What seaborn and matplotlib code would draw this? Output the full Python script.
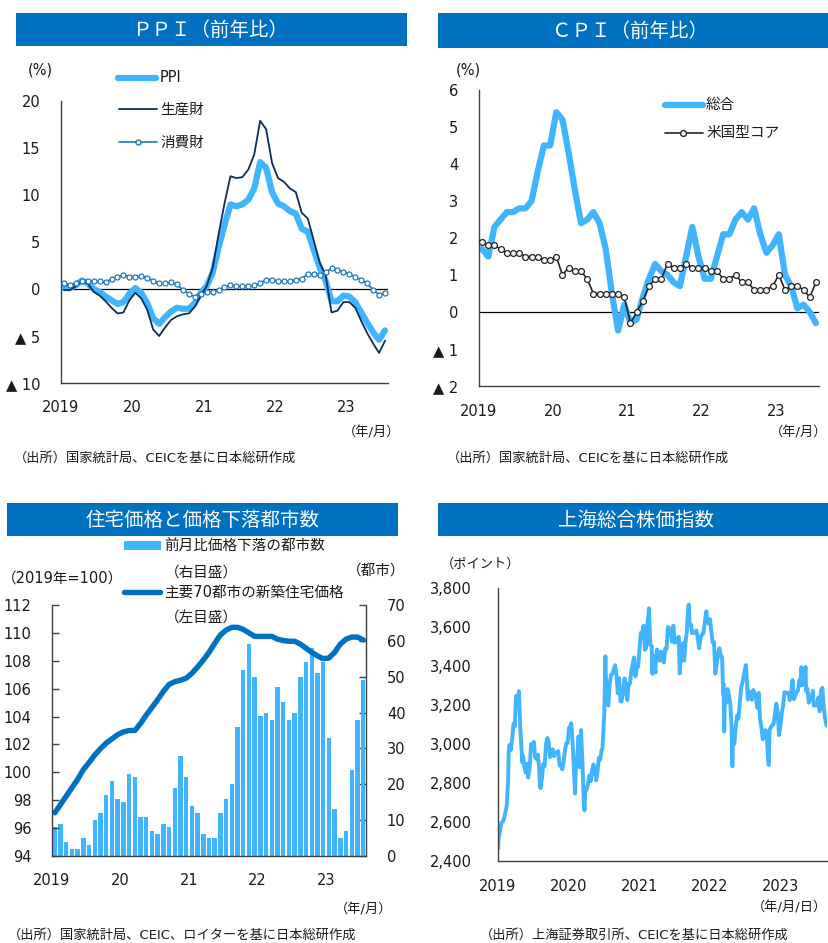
import numpy as np
import pandas as pd
import matplotlib
matplotlib.use("Agg")
import matplotlib.pyplot as plt
from matplotlib.patches import Rectangle
from matplotlib.lines import Line2D
from matplotlib.ticker import FuncFormatter, FixedLocator
import seaborn as sns

# ---------------------------------------------------------------- data
year_labels = ["2019", "20", "21", "22", "23"]
year_ticks = [0, 12, 24, 36, 48]

# PPI, year-on-year (%), Jan 2019 - Jul 2023
ppi_total = [0.1, 0.1, 0.4, 0.9, 0.6, 0.0, -0.3, -0.8, -1.2, -1.6, -1.4, -0.5,
             0.1, -0.4, -1.5, -3.1, -3.7, -3.0, -2.4, -2.0, -2.1, -2.1, -1.5, -0.4,
             0.3, 1.7, 4.4, 6.8, 9.0, 8.8, 9.0, 9.5, 10.7, 13.5, 12.9, 10.3,
             9.1, 8.8, 8.3, 8.0, 6.4, 6.1, 4.2, 2.3, 0.9, -1.3, -1.3, -0.7,
             -0.8, -1.4, -2.5, -3.6, -4.6, -5.4, -4.4]
ppi_producer = [-0.1, -0.1, 0.3, 0.8, 0.6, -0.3, -0.7, -1.3, -2.0, -2.6, -2.5, -1.2,
                -0.4, -1.0, -2.2, -4.3, -5.0, -4.1, -3.3, -2.9, -2.7, -2.6, -1.9, -0.7,
                0.3, 2.2, 5.8, 9.1, 12.0, 11.8, 11.9, 12.7, 14.3, 17.9, 17.0, 13.4,
                11.8, 11.4, 10.7, 10.3, 8.1, 7.5, 5.2, 2.8, 1.5, -2.5, -2.3, -1.4,
                -1.4, -2.0, -3.4, -4.7, -5.8, -6.8, -5.5]
ppi_consumer = [0.6, 0.4, 0.6, 0.9, 0.9, 0.8, 0.8, 0.7, 1.1, 1.3, 1.5, 1.3,
                1.3, 1.4, 1.2, 0.9, 0.6, 0.6, 0.7, 0.5, -0.1, -0.5, -0.8, -0.5,
                -0.3, -0.3, -0.1, 0.2, 0.4, 0.3, 0.3, 0.3, 0.4, 0.6, 1.0, 1.0,
                0.8, 0.8, 0.8, 1.0, 1.1, 1.6, 1.6, 1.5, 1.8, 2.2, 2.0, 1.8,
                1.6, 1.3, 1.0, 0.6, -0.1, -0.6, -0.4]

# CPI, year-on-year (%)
cpi_total = [1.7, 1.5, 2.3, 2.5, 2.7, 2.7, 2.8, 2.8, 3.0, 3.8, 4.5, 4.5,
             5.4, 5.2, 4.3, 3.3, 2.4, 2.5, 2.7, 2.4, 1.7, 0.5, -0.5, 0.2,
             -0.3, -0.2, 0.4, 0.9, 1.3, 1.1, 1.0, 0.8, 0.7, 1.5, 2.3, 1.5,
             0.9, 0.9, 1.5, 2.1, 2.1, 2.5, 2.7, 2.5, 2.8, 2.1, 1.6, 1.8,
             2.1, 1.0, 0.7, 0.1, 0.2, 0.0, -0.3]
cpi_core = [1.9, 1.8, 1.8, 1.7, 1.6, 1.6, 1.6, 1.5, 1.5, 1.5, 1.4, 1.4,
            1.5, 1.0, 1.2, 1.1, 1.1, 0.9, 0.5, 0.5, 0.5, 0.5, 0.5, 0.4,
            -0.3, 0.0, 0.3, 0.7, 0.9, 0.9, 1.3, 1.2, 1.2, 1.3, 1.2, 1.2,
            1.2, 1.1, 1.1, 0.9, 0.9, 1.0, 0.8, 0.8, 0.6, 0.6, 0.6, 0.7,
            1.0, 0.6, 0.7, 0.7, 0.6, 0.4, 0.8]

# New home prices in 70 major cities (2019 = 100) and number of cities with m/m declines
house_price = [97.1, 97.7, 98.3, 98.9, 99.5, 100.2, 100.7, 101.25, 101.7, 102.1, 102.4, 102.7,
               102.9, 103.0, 103.0, 103.5, 104.1, 104.65, 105.2, 105.8, 106.3, 106.5, 106.6, 106.75,
               107.1, 107.55, 108.05, 108.6, 109.25, 109.85, 110.2, 110.4, 110.4, 110.25, 110.0, 109.75,
               109.75, 109.75, 109.75, 109.55, 109.45, 109.4, 109.4, 109.2, 108.9, 108.6, 108.35, 108.15,
               108.2, 108.6, 109.2, 109.55, 109.7, 109.7, 109.5]
falling_cities = [8, 9, 4, 2, 2, 5, 3, 10, 12, 17, 21, 16,
                  15, 23, 22, 11, 11, 7, 6, 9, 8, 19, 28, 22,
                  14, 12, 6, 5, 5, 12, 16, 20, 36, 52, 59, 50,
                  39, 40, 38, 47, 43, 38, 40, 50, 54, 58, 51, 54,
                  33, 13, 5, 7, 24, 38, 49]

# Shanghai Composite Index (points)
sse_2019 = [("01-02", 2465), ("01-04", 2514), ("01-11", 2553), ("01-18", 2596), ("01-25", 2601),
            ("02-01", 2618), ("02-15", 2682), ("02-22", 2804), ("02-25", 2961), ("03-01", 2994),
            ("03-08", 2969), ("03-15", 3021), ("03-22", 3104), ("03-29", 3091), ("04-04", 3247),
            ("04-08", 3244), ("04-12", 3189), ("04-19", 3271), ("04-26", 3086), ("05-06", 2906),
            ("05-10", 2939), ("05-17", 2882), ("05-24", 2853), ("05-31", 2899), ("06-06", 2828),
            ("06-14", 2882), ("06-21", 3001), ("06-28", 2979), ("07-05", 3011), ("07-12", 2930),
            ("07-19", 2924), ("07-26", 2945), ("08-02", 2868), ("08-06", 2778), ("08-09", 2774),
            ("08-16", 2824), ("08-23", 2898), ("08-30", 2886), ("09-06", 2999), ("09-13", 3031),
            ("09-20", 3006), ("09-27", 2932), ("10-11", 2973), ("10-18", 2938), ("10-25", 2955),
            ("11-01", 2958), ("11-08", 2964), ("11-15", 2891), ("11-22", 2885), ("11-29", 2871),
            ("12-06", 2912), ("12-13", 2967), ("12-20", 3005), ("12-27", 3005), ("12-31", 3050)]
sse_2020 = [("01-03", 3083), ("01-10", 3092), ("01-14", 3107), ("01-17", 3075), ("01-23", 2977),
            ("02-03", 2746), ("02-07", 2876), ("02-14", 2917), ("02-21", 3039), ("02-28", 2880),
            ("03-05", 3071), ("03-13", 2887), ("03-19", 2702), ("03-23", 2660), ("03-27", 2772),
            ("04-03", 2764), ("04-10", 2797), ("04-17", 2838), ("04-24", 2809), ("04-30", 2860),
            ("05-08", 2895), ("05-15", 2868), ("05-22", 2814), ("05-29", 2852), ("06-05", 2930),
            ("06-12", 2920), ("06-19", 2968), ("06-24", 2980), ("07-03", 3152), ("07-09", 3450),
            ("07-10", 3383), ("07-17", 3214), ("07-24", 3197), ("07-31", 3310), ("08-07", 3354),
            ("08-14", 3360), ("08-21", 3380), ("08-28", 3404), ("09-04", 3355), ("09-11", 3260),
            ("09-18", 3338), ("09-25", 3219), ("09-30", 3218), ("10-09", 3272), ("10-16", 3336),
            ("10-23", 3278), ("10-30", 3225), ("11-06", 3312), ("11-13", 3310), ("11-20", 3377),
            ("11-27", 3408), ("12-04", 3444), ("12-11", 3347), ("12-18", 3394), ("12-25", 3397),
            ("12-31", 3473)]
sse_2021 = [("01-08", 3570), ("01-15", 3566), ("01-22", 3607), ("01-29", 3483), ("02-05", 3496),
            ("02-10", 3603), ("02-18", 3675), ("02-19", 3696), ("02-26", 3509), ("03-05", 3502),
            ("03-09", 3360), ("03-12", 3454), ("03-19", 3405), ("03-25", 3367), ("03-26", 3418),
            ("04-02", 3484), ("04-09", 3451), ("04-16", 3427), ("04-23", 3474), ("04-30", 3447),
            ("05-07", 3418), ("05-14", 3490), ("05-21", 3487), ("05-28", 3600), ("06-04", 3592),
            ("06-11", 3590), ("06-18", 3525), ("06-25", 3607), ("07-02", 3519), ("07-09", 3525),
            ("07-16", 3539), ("07-23", 3550), ("07-28", 3362), ("07-30", 3397), ("08-06", 3458),
            ("08-13", 3517), ("08-20", 3427), ("08-27", 3522), ("09-03", 3581), ("09-10", 3703),
            ("09-13", 3715), ("09-17", 3613), ("09-24", 3613), ("09-30", 3568), ("10-15", 3572),
            ("10-22", 3582), ("10-29", 3547), ("11-05", 3491), ("11-12", 3539), ("11-19", 3561),
            ("11-26", 3564), ("12-03", 3607), ("12-10", 3666), ("12-13", 3681), ("12-17", 3632),
            ("12-24", 3618), ("12-31", 3640)]
sse_2022 = [("01-07", 3580), ("01-14", 3521), ("01-21", 3522), ("01-27", 3394), ("01-28", 3361),
            ("02-11", 3462), ("02-18", 3491), ("02-25", 3451), ("03-04", 3447), ("03-09", 3256),
            ("03-11", 3309), ("03-15", 3064), ("03-18", 3251), ("03-25", 3212), ("04-01", 3282),
            ("04-08", 3252), ("04-15", 3211), ("04-22", 3087), ("04-26", 2886), ("04-29", 3047),
            ("05-06", 3001), ("05-13", 3084), ("05-20", 3146), ("05-27", 3130), ("06-02", 3195),
            ("06-10", 3285), ("06-17", 3316), ("06-24", 3350), ("07-01", 3388), ("07-05", 3405),
            ("07-08", 3356), ("07-15", 3228), ("07-22", 3270), ("07-29", 3253), ("08-05", 3227),
            ("08-12", 3277), ("08-19", 3258), ("08-26", 3236), ("09-02", 3186), ("09-09", 3262),
            ("09-16", 3126), ("09-23", 3088), ("09-30", 3024), ("10-14", 3071), ("10-21", 3038),
            ("10-28", 2916), ("10-31", 2893), ("11-04", 3071), ("11-11", 3087), ("11-18", 3097),
            ("11-25", 3101), ("12-02", 3156), ("12-09", 3206), ("12-16", 3167), ("12-23", 3046),
            ("12-30", 3089)]
sse_2023 = [("01-06", 3158), ("01-13", 3195), ("01-20", 3265), ("02-03", 3263), ("02-10", 3260),
            ("02-17", 3225), ("02-24", 3267), ("03-03", 3328), ("03-10", 3230), ("03-17", 3250),
            ("03-24", 3265), ("03-31", 3273), ("04-07", 3327), ("04-14", 3338), ("04-18", 3393),
            ("04-21", 3301), ("04-28", 3323), ("05-05", 3350), ("05-09", 3395), ("05-12", 3272),
            ("05-19", 3283), ("05-26", 3212), ("06-02", 3230), ("06-09", 3231), ("06-16", 3273),
            ("06-21", 3197), ("06-30", 3202), ("07-07", 3197), ("07-14", 3238), ("07-21", 3168),
            ("07-28", 3276), ("08-04", 3288), ("08-11", 3189), ("08-18", 3131), ("08-25", 3095)]

# ---------------------------------------------------------------- style
sns.set_theme(style="white")
plt.rcParams["font.family"] = ["DejaVu Sans", "Noto Sans CJK JP"]
plt.rcParams["axes.unicode_minus"] = False

W, H = 829, 943
fig = plt.figure(figsize=(W / 100, H / 100), dpi=100)
fig.patch.set_facecolor("white")

BAR_BLUE = "#0070C0"
LIGHT = "#41B4FF"
NAVY = "#0B2D5C"
MID = "#1F78C1"
SPINE = "#404040"
TXT = "#1a1a1a"


def fx(x):
    return x / W


def fy(y):
    return 1 - y / H


def add_axes_px(l, t, r, b):
    return fig.add_axes([l / W, 1 - b / H, (r - l) / W, (b - t) / H])


def title_bar(l, t, r, b, text, cx):
    fig.add_artist(Rectangle((fx(l), fy(b)), (r - l) / W, (b - t) / H,
                             transform=fig.transFigure, facecolor=BAR_BLUE,
                             edgecolor="none"))
    fig.text(fx(cx), fy((t + b) / 2 + 1), text, color="white", fontsize=14,
             ha="center", va="center")


def ftext(x, y, s, size=10, ha="left", va="center"):
    fig.text(fx(x), fy(y), s, fontsize=size, ha=ha, va=va, color=TXT)


def legend_line(x0, x1, y, color, lw, marker=None, mx=None, mfc="white", ms=4):
    fig.add_artist(Line2D([fx(x0), fx(x1)], [fy(y), fy(y)], transform=fig.transFigure,
                          color=color, lw=lw, solid_capstyle="round"))
    if marker:
        fig.add_artist(Line2D([fx(mx)], [fy(y)], transform=fig.transFigure,
                              marker=marker, color=color, markerfacecolor=mfc,
                              markeredgecolor=color, markersize=ms, lw=0))


def style_axes(ax, left=True, right=False):
    for side in ["top", "right", "left", "bottom"]:
        ax.spines[side].set_visible(False)
    ax.spines["bottom"].set_visible(True)
    ax.spines["bottom"].set_color(SPINE)
    ax.spines["bottom"].set_linewidth(1.0)
    if left:
        ax.spines["left"].set_visible(True)
        ax.spines["left"].set_color(SPINE)
        ax.spines["left"].set_linewidth(1.0)
    if right:
        ax.spines["right"].set_visible(True)
        ax.spines["right"].set_color(SPINE)
        ax.spines["right"].set_linewidth(1.0)
    ax.set_facecolor("none")
    ax.grid(False)
    ax.tick_params(axis="x", direction="out", length=4, width=1, color=SPINE,
                   labelsize=10.5, labelcolor=TXT, pad=6)
    ax.tick_params(axis="y", direction="in", length=5, width=1, color=SPINE,
                   labelsize=10.5, labelcolor=TXT, pad=14)
    ax.set_xlabel("")
    ax.set_ylabel("")


def tri_fmt(v, _pos=None):
    v = int(round(v))
    return f"▲ {abs(v)}" if v < 0 else f"{v}"


months = np.arange(len(ppi_total)) + 0.5

# ---------------------------------------------------------------- PPI
title_bar(16, 13, 407, 46, "ＰＰＩ（前年比）", 210)
ax1 = add_axes_px(61, 101, 388, 383)
ppi_df = pd.DataFrame({"m": months, "total": ppi_total,
                       "producer": ppi_producer, "consumer": ppi_consumer})
ax1.axhline(0, color="black", lw=0.9, zorder=1)
sns.lineplot(data=ppi_df, x="m", y="total", ax=ax1, color=LIGHT, lw=4.5,
             solid_joinstyle="round", zorder=2)
sns.lineplot(data=ppi_df, x="m", y="producer", ax=ax1, color=NAVY, lw=1.3, zorder=3)
sns.lineplot(data=ppi_df, x="m", y="consumer", ax=ax1, color=MID, lw=1.2,
             marker="o", markersize=3.6, markerfacecolor="white",
             markeredgecolor=MID, markeredgewidth=0.9, zorder=4)
ax1.set_xlim(0, 55)
ax1.set_ylim(-10, 20)
ax1.yaxis.set_major_locator(FixedLocator([-10, -5, 0, 5, 10, 15, 20]))
ax1.yaxis.set_major_formatter(FuncFormatter(tri_fmt))
ax1.set_xticks(year_ticks)
ax1.set_xticklabels(year_labels)
style_axes(ax1)
ax1.tick_params(axis="y", pad=15)
ax1.tick_params(axis="x", pad=8)

ftext(40, 70, "(%)", 10.5, ha="center")
legend_line(118, 156, 78, LIGHT, 4.5)
ftext(160, 78, "PPI", 10.5)
legend_line(119, 157, 109, NAVY, 1.3)
ftext(160, 109, "生産財", 10.5)
legend_line(119, 157, 142, MID, 1.2, marker="o", mx=138, ms=3.6)
ftext(160, 142, "消費財", 10.5)
ftext(372, 433, "（年/月）", 9.5, ha="center")
ftext(14, 458, "（出所）国家統計局、CEICを基に日本総研作成", 9.5)

# ---------------------------------------------------------------- CPI
title_bar(438, 13, 829, 48, "ＣＰＩ（前年比）", 630)
ax2 = add_axes_px(479, 90, 819, 386)
cpi_df = pd.DataFrame({"m": months, "total": cpi_total, "core": cpi_core})
ax2.axhline(0, color="black", lw=0.9, zorder=1)
sns.lineplot(data=cpi_df, x="m", y="total", ax=ax2, color=LIGHT, lw=4.5,
             solid_joinstyle="round", zorder=2)
sns.lineplot(data=cpi_df, x="m", y="core", ax=ax2, color="#222222", lw=1.2,
             marker="o", markersize=4.2, markerfacecolor="white",
             markeredgecolor="#222222", markeredgewidth=0.9, zorder=3)
ax2.set_xlim(0, 55)
ax2.set_ylim(-2, 6)
ax2.yaxis.set_major_locator(FixedLocator([-2, -1, 0, 1, 2, 3, 4, 5, 6]))
ax2.yaxis.set_major_formatter(FuncFormatter(tri_fmt))
ax2.set_xticks(year_ticks)
ax2.set_xticklabels(year_labels)
style_axes(ax2)
ax2.tick_params(axis="y", pad=15)
ax2.tick_params(axis="x", pad=9)

ftext(468, 70, "(%)", 10.5, ha="center")
legend_line(665, 703, 105, LIGHT, 4.5)
ftext(706, 104, "総合", 10.5)
legend_line(665, 703, 133, "#222222", 1.2, marker="o", mx=683, ms=4.2)
ftext(706, 133, "米国型コア", 10.5)
ftext(827, 433, "（年/月）", 9.5, ha="right")
ftext(447, 458, "（出所）国家統計局、CEICを基に日本総研作成", 9.5)

# ---------------------------------------------------------------- housing
title_bar(7, 503, 398, 536, "住宅価格と価格下落都市数", 203)
ax3 = add_axes_px(52, 605, 366, 856)
house_df = pd.DataFrame({"m": months, "price": house_price, "cities": falling_cities})
sns.barplot(data=house_df, x="m", y="cities", ax=ax3, native_scale=True,
            color=LIGHT, saturation=1, width=0.78, edgecolor="none")
ax3b = ax3.twinx()
sns.lineplot(data=house_df, x="m", y="price", ax=ax3b, color=BAR_BLUE, lw=3.9,
             solid_capstyle="round")

# bars: right-hand scale (cities)
ax3.set_xlim(0, 55)
ax3.set_ylim(0, 70)
ax3.set_yticks(np.arange(0, 71, 10))
ax3.set_xticks(year_ticks)
ax3.set_xticklabels(year_labels)
style_axes(ax3, left=False, right=True)
ax3.yaxis.tick_right()
ax3.tick_params(axis="y", direction="in", pad=15, left=False, right=True,
                labelleft=False, labelright=True)
ax3.tick_params(axis="x", pad=8)

# line: left-hand scale (index)
ax3b.set_ylim(94, 112)
ax3b.set_xlim(0, 55)
ax3b.set_yticks(np.arange(94, 113, 2))
for side in ["top", "right", "bottom"]:
    ax3b.spines[side].set_visible(False)
ax3b.spines["left"].set_visible(True)
ax3b.spines["left"].set_color(SPINE)
ax3b.spines["left"].set_linewidth(1.0)
ax3b.grid(False)
ax3b.yaxis.tick_left()
ax3b.tick_params(axis="y", direction="in", length=5, width=1, color=SPINE,
                 labelsize=10.5, labelcolor=TXT, pad=15, left=True, right=False,
                 labelleft=True, labelright=False)
ax3b.set_ylabel("")

fig.add_artist(Rectangle((fx(124), fy(550)), 37 / W, 9 / H, transform=fig.transFigure,
                         facecolor=LIGHT, edgecolor="none"))
ftext(164, 545, "前月比価格下落の都市数", 10.5)
ftext(201, 572, "（右目盛）", 10.5, ha="center")
ftext(62, 578, "（2019年=100）", 10.5, ha="center")
ftext(376, 570, "（都市）", 10.5, ha="center")
legend_line(124, 160, 592, BAR_BLUE, 3.9)
ftext(164, 592, "主要70都市の新築住宅価格", 10.5)
ftext(201, 618, "（左目盛）", 10.5, ha="center")
ftext(364, 910, "（年/月）", 9.5, ha="center")
ftext(8, 935, "（出所）国家統計局、CEIC、ロイターを基に日本総研作成", 9.5)

# ---------------------------------------------------------------- Shanghai
title_bar(438, 503, 829, 536, "上海総合株価指数", 636)
ax4 = add_axes_px(498, 588, 827, 861)
rows = []
for yr, block in [(2019, sse_2019), (2020, sse_2020), (2021, sse_2021),
                  (2022, sse_2022), (2023, sse_2023)]:
    for md, val in block:
        rows.append((pd.Timestamp(f"{yr}-{md}"), val))
sse_df = pd.DataFrame(rows, columns=["date", "close"])
sns.lineplot(data=sse_df, x="date", y="close", ax=ax4, color=LIGHT, lw=2.8,
             solid_joinstyle="round")
ax4.set_xlim(pd.Timestamp("2019-01-01"), pd.Timestamp("2023-08-28"))
ax4.set_ylim(2400, 3800)
ax4.set_yticks(np.arange(2400, 3801, 200))
ax4.yaxis.set_major_formatter(FuncFormatter(lambda v, p: f"{int(v):,}"))
yr_ticks = [pd.Timestamp(f"{y}-01-01") for y in range(2019, 2024)]
ax4.set_xticks(yr_ticks)
ax4.set_xticklabels([str(y) for y in range(2019, 2024)])
style_axes(ax4)
ax4.tick_params(axis="y", pad=19)
ax4.tick_params(axis="x", pad=9)

ftext(481, 564, "（ポイント）", 9.5, ha="center")
ftext(827, 908, "（年/月/日）", 9.5, ha="right")
ftext(480, 935, "（出所）上海証券取引所、CEICを基に日本総研作成", 9.5)

fig.savefig("out.png", dpi=100, facecolor="white")
